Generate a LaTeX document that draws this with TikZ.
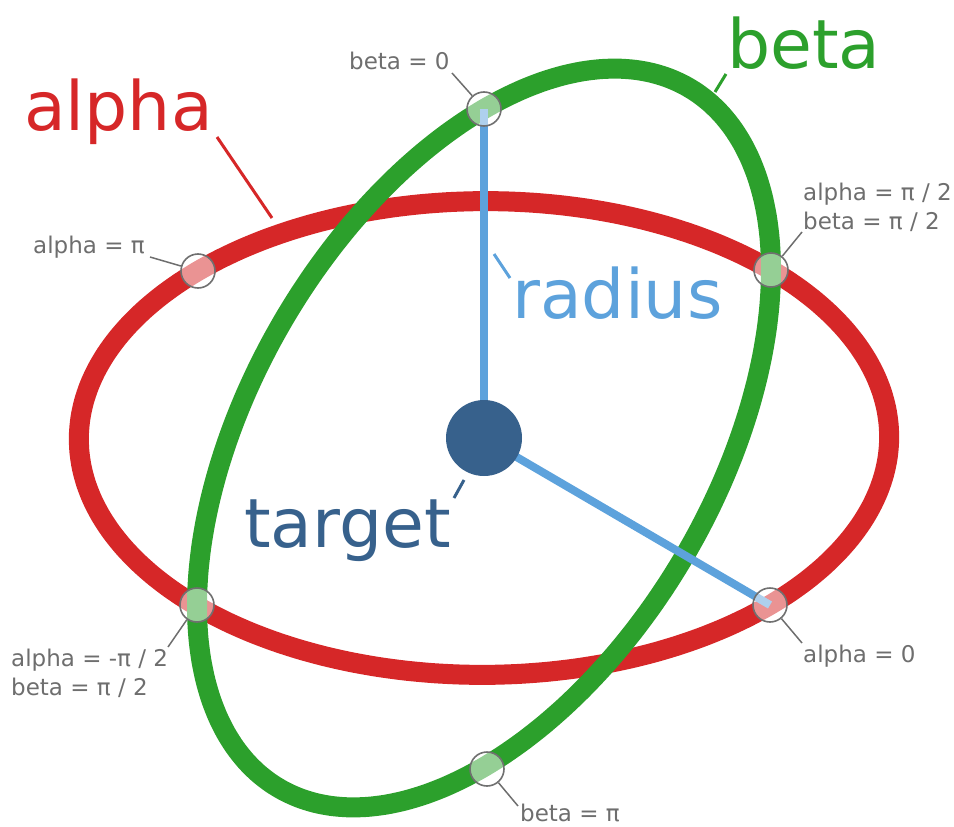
\documentclass[tikz,border=0pt]{standalone}
\usepackage{fontspec}
\setmainfont{DejaVu Sans}
\definecolor{ared}{HTML}{D62728}
\definecolor{bgreen}{HTML}{2CA02C}
\definecolor{rblue}{HTML}{5DA2DC}
\definecolor{tblue}{HTML}{37618C}
\definecolor{lblgray}{HTML}{6E6E6E}
\definecolor{mkgray}{HTML}{707070}
\begin{document}
\begin{tikzpicture}[x=1pt,y=-1pt,
  ell/.style={line width=20pt},
  mk/.style={circle, draw=mkgray, line width=1.6pt, fill=white, fill opacity=0.5, minimum size=34pt, inner sep=0pt},
  small/.style={font=\fontsize{23}{28}\selectfont, text=lblgray, inner sep=0pt, anchor=base west},
  big/.style={font=\fontsize{68}{80}\selectfont, inner sep=0pt, anchor=base west},
  ptr/.style={draw=lblgray, line width=1.5pt},
  cptr/.style={line width=3pt},
  rad/.style={draw=rblue, line width=8pt}]
\useasboundingbox (0,0) rectangle (954,827);
% ellipses
\draw[ared, ell] plot[smooth cycle, variable=\t, samples=90, domain=0:356]
  ({484+286*cos(\t)+287*sin(\t)},{438+167*cos(\t)-168*sin(\t)});
\draw[bgreen, ell] plot[smooth cycle, variable=\t, samples=90, domain=0:356]
  ({484+0*cos(\t)+287*sin(\t)},{438-329*cos(\t)-168*sin(\t)});
% points
\coordinate (c) at (484,438);
\coordinate (pa0) at (770,605);
\coordinate (pb0) at (484,109);
% radius lines
\draw[rad] (c) -- (pb0);
\draw[rad] (c) -- (pa0);
% target
\node[circle, fill=tblue, minimum size=76pt, inner sep=0pt] (tgt) at (c) {};
% markers
\node[mk] (ma0) at (pa0) {};
\node[mk] (map2) at (771,270) {};
\node[mk] (mapi) at (198,271) {};
\node[mk] (mam2) at (197,605) {};
\node[mk] (mb0) at (pb0) {};
\node[mk] (mbpi) at (487,769) {};
% big labels
\node[big, text=ared] (lalpha) at (24,130) {alpha};
\node[big, text=bgreen] (lbeta) at (727,68) {beta};
\node[big, text=rblue] (lradius) at (512,318) {radius};
\node[big, text=tblue] (ltarget) at (244,547) {target};
\coordinate (qa1) at (217,137); \coordinate (qa2) at (272,218);
\draw[ared, cptr] (qa1) -- (qa2);
\coordinate (qb1) at (726,74); \coordinate (qb2) at (715,92);
\draw[bgreen, cptr] (qb1) -- (qb2);
\coordinate (qr1) at (494,254); \coordinate (qr2) at (510,278);
\draw[rblue, cptr] (qr1) -- (qr2);
\coordinate (qt1) at (464,480); \coordinate (qt2) at (454,498);
\draw[tblue, cptr] (qt1) -- (qt2);
% small labels
\node[small] (sb0) at (349,69) {beta = 0};
\node[small] (sapi) at (33,253) {alpha = π};
\node[small] (sap2) at (803,200) {alpha = π / 2};
\node[small] (sbp2) at (803,229) {beta = π / 2};
\node[small] (sam2) at (11,666) {alpha = -π / 2};
\node[small] (sbm2) at (11,695) {beta = π / 2};
\node[small] (sa0) at (803,662) {alpha = 0};
\node[small] (sbpi) at (520,821) {beta = π};
% pointers
\coordinate (r1) at (452,73);  \draw[ptr] (r1) -- (mb0);
\coordinate (r2) at (802,232); \draw[ptr] (r2) -- (map2);
\coordinate (r3) at (150,257); \draw[ptr] (r3) -- (mapi);
\coordinate (r4) at (168,647); \draw[ptr] (r4) -- (mam2);
\coordinate (r5) at (802,643); \draw[ptr] (r5) -- (ma0);
\coordinate (r6) at (518,806); \draw[ptr] (r6) -- (mbpi);
\end{tikzpicture}
\end{document}
